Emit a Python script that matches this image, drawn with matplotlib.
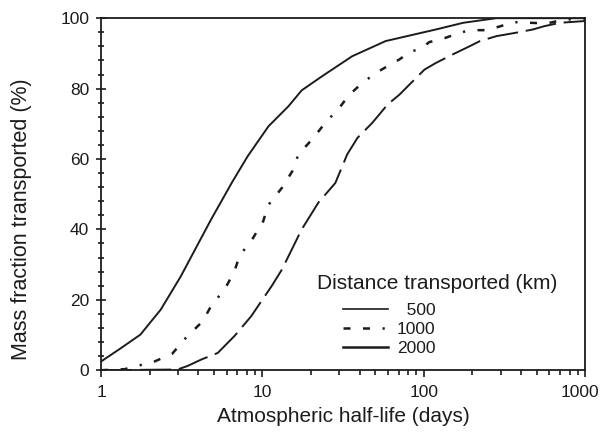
import numpy as np
import matplotlib
matplotlib.use("Agg")
import matplotlib.pyplot as plt
import matplotlib.lines as mlines
import matplotlib.transforms as mtransforms
from matplotlib.ticker import MultipleLocator, LogLocator, NullFormatter

plt.rcParams['font.family'] = ['Liberation Sans', 'DejaVu Sans']

# half-life (days) vs mass fraction transported (%)
hl_500 = [1.0, 1.3, 1.75, 2.34, 3.12, 4.8, 6.5, 8.1, 10.9, 14.5, 17.5, 23.4, 36, 58, 119, 176, 281, 1000]
mf_500 = [2.5, 6.0, 10.1, 17.2, 26.7, 42.8, 53.5, 60.8, 69.3, 75.0, 79.5, 83.5, 89.2, 93.5, 96.8, 98.7, 100, 100]

hl_1000 = [1.0, 1.4, 1.63, 2.1, 2.76, 3.35, 4.26, 4.8, 5.87, 6.7, 7.2, 8.75, 10.1, 10.86, 13.2, 15.3, 16.7,
           20.7, 24.7, 29.7, 34.3, 40.6, 49.9, 59.7, 70.7, 82.4, 96, 108, 136, 163, 193, 244, 298, 358,
           455, 578, 742, 1000]
mf_1000 = [0.0, 0.3, 1.1, 2.3, 4.7, 9.2, 13.9, 18.2, 23.2, 28.1, 32.4, 37.6, 42.3, 46.9, 51.8, 56.5, 61.3,
           66.0, 70.5, 74.3, 78.1, 81.2, 84.3, 86.4, 88.3, 90.5, 91.3, 93.2, 94.4, 95.7, 96.6, 96.6, 97.7, 98.9,
           98.7, 98.5, 99.6, 99.8]

hl_2000 = [1.0, 2.97, 3.43, 4.16, 5.28, 6.7, 8.5, 11.4, 13.2, 17.5, 22.2, 28.3, 33.5, 38.8, 48, 59.7,
           70.7, 85.5, 101, 119, 151, 184, 223, 282, 376, 475, 555, 700, 810, 1000]
mf_2000 = [0.0, 0.2, 1.2, 3.0, 4.9, 9.7, 15.3, 23.9, 28.6, 40.0, 47.6, 53.2, 61.3, 66.0, 70.3, 75.5,
           78.3, 82.1, 85.4, 87.3, 89.7, 91.6, 93.5, 94.9, 95.9, 96.8, 97.7, 98.7, 98.9, 99.2]

legend_title = 'Distance transported (km)'
legend_labels = ['\u2007500', '1000', '2000']
x_ticks = [1, 10, 100, 1000]
x_ticklabels = ['1', '10', '100', '1000']

ink = '#1c1c1c'
dash_1000 = (2.8, 5, 2.8, 5, 0.9, 5)

fig = plt.figure(figsize=(6.02, 4.33), dpi=100)
ax = fig.add_axes([0.168, 0.145, 0.804, 0.813])

ax.plot(hl_500, mf_500, color=ink, lw=1.4)
ax.plot(hl_1000, mf_1000, color=ink, lw=1.8, dashes=dash_1000)
ax.plot(hl_2000, mf_2000, color=ink, lw=1.4, dashes=(16, 4))

ax.set_xscale('log')
ax.set_xlim(1, 1000)
ax.set_ylim(0, 100)
ax.yaxis.set_major_locator(MultipleLocator(20))
ax.yaxis.set_minor_locator(MultipleLocator(4))
ax.xaxis.set_minor_locator(LogLocator(base=10, subs=np.arange(2, 10)))
ax.xaxis.set_minor_formatter(NullFormatter())
ax.set_xticks(x_ticks)
ax.set_xticklabels(x_ticklabels)

ax.tick_params(axis='y', which='major', direction='inout', length=7, width=1.2, labelsize=12.5, pad=5,
               colors=ink)
ax.tick_params(axis='y', which='minor', direction='inout', length=5, width=1.2, colors=ink)
ax.tick_params(axis='x', which='major', direction='out', length=5, width=1.2, labelsize=12.5, pad=6,
               colors=ink)
ax.tick_params(axis='x', which='minor', direction='out', length=3.5, width=1.2, colors=ink)
for s in ax.spines.values():
    s.set_linewidth(1.3)
    s.set_color(ink)

# nudge the last x label so it stays inside the figure
last = ax.get_xticklabels()[-1]
last.set_transform(last.get_transform() + mtransforms.ScaledTranslation(-5 / 100, 0, fig.dpi_scale_trans))

ax.set_xlabel('Atmospheric half-life (days)', fontsize=15, color=ink, labelpad=5)
ax.set_ylabel('Mass fraction transported (%)', fontsize=15.5, color=ink)
ax.yaxis.set_label_coords(-0.143, 0.43)

h_leg = [mlines.Line2D([], [], color=ink, lw=1.2),
         mlines.Line2D([], [], color=ink, lw=1.8, dashes=dash_1000),
         mlines.Line2D([], [], color=ink, lw=1.8)]
leg = ax.legend(h_leg, legend_labels, loc='center left', bbox_to_anchor=(0.5, 0.115),
                frameon=False, fontsize=12.5, handlelength=2.6, handletextpad=0.5,
                labelspacing=0.22, borderpad=0, borderaxespad=0)
for t in leg.get_texts():
    t.set_color(ink)
ax.text(0.694, 0.247, legend_title, transform=ax.transAxes, ha='center', va='center',
        fontsize=15, color=ink)

fig.savefig('out.png', dpi=100)
